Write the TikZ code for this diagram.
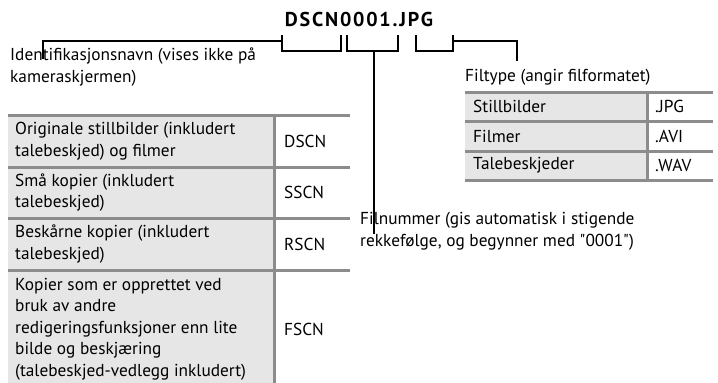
\documentclass[tikz,border=0pt]{standalone}
\usepackage{fontspec}
\setmainfont{PT Sans}
\newfontfamily\titlefont[LetterSpace=9.0]{PT Sans}
\definecolor{rule}{HTML}{8C8C8C}
\definecolor{cellfill}{HTML}{E6E6E6}
\begin{document}
\begin{tikzpicture}[x=1pt,y=-1pt,
  txt/.style={font=\fontsize{17.3}{21.5}\selectfont, inner sep=0pt, align=left},
  cell/.style={txt, anchor=west},
  code/.style={txt, anchor=west},
  bracketline/.style={line width=2pt, line join=miter, line cap=rect},
  rulefill/.style={fill=cellfill, draw=none},
  hrule/.style={draw=rule, line width=3pt}]
\useasboundingbox (0,0) rectangle (718,383);

% title
\node[inner sep=0pt] (title) at (359,19) {\titlefont\bfseries\fontsize{20}{20}\selectfont DSCN0001.JPG};

% brackets
\coordinate (b1a) at (282,36); \coordinate (b1b) at (341,36);
\coordinate (b2a) at (347,36); \coordinate (b2b) at (398,36);
\coordinate (b3a) at (416,36); \coordinate (b3b) at (453,36);
\draw[bracketline] (b1a) -- ++(0,14.5) -| (b1b);
\draw[bracketline] (b2a) -- ++(0,14.5) -| (b2b);
\draw[bracketline] (b3a) -- ++(0,14.5) -| (b3b);

% labels
\node[txt, anchor=base west] (idlabel) at (10,82) {Identifikasjonsnavn (vises ikke på\\kameraskjermen)};
\node[txt, anchor=base west] (filtype) at (465,81) {Filtype (angir filformatet)};
\node[txt, anchor=base west] (filnr) at (360,246) {Filnummer (gis automatisk i stigende\\rekkefølge, og begynner med \textquotedbl 0001\textquotedbl)};

% leaders
\coordinate (l1) at (282,41);
\coordinate (l1e) at (43,58);
\draw[bracketline] (l1) -| (l1e);
\coordinate (s2) at (374,50.5);
\coordinate (s2e) at (374,233);
\draw[bracketline] (s2) -- (s2e);
\coordinate (l3) at (453,41);
\coordinate (l3e) at (517,60);
\draw[bracketline] (l3) -| (l3e);

% left table
\fill[rulefill] (8,115) rectangle (274,383);
\foreach \yy in {115,167,218.5,270}{
  \draw[hrule] (8,\yy) -- (350,\yy);
}
\draw[hrule] (274,115) -- (274,383);
\node[cell] (c1) at (15,141) {Originale stillbilder (inkludert\\talebeskjed) og filmer};
\node[code] (d1) at (284,141) {DSCN};
\node[cell] (c2) at (15,192.5) {Små kopier (inkludert\\talebeskjed)};
\node[code] (d2) at (284,192.5) {SSCN};
\node[cell] (c3) at (15,244) {Beskårne kopier (inkludert\\talebeskjed)};
\node[code] (d3) at (284,244) {RSCN};
\node[cell] (c4) at (15,329) {Kopier som er opprettet ved\\bruk av andre\\redigeringsfunksjoner enn lite\\bilde og beskjæring\\(talebeskjed-vedlegg inkludert)};
\node[code] (d4) at (284,329) {FSCN};

% right table
\fill[rulefill] (465,92) rectangle (647,180);
\foreach \yy in {92,121,151,180}{
  \draw[hrule] (465,\yy) -- (713,\yy);
}
\draw[hrule] (647,92) -- (647,180);
\node[cell] (r1) at (473,106.5) {Stillbilder};
\node[code] (e1) at (655,106.5) {.JPG};
\node[cell] (r2) at (473,136) {Filmer};
\node[code] (e2) at (655,136) {.AVI};
\node[cell] (r3) at (473,165.5) {Talebeskjeder};
\node[code] (e3) at (655,165.5) {.WAV};
\end{tikzpicture}
\end{document}
